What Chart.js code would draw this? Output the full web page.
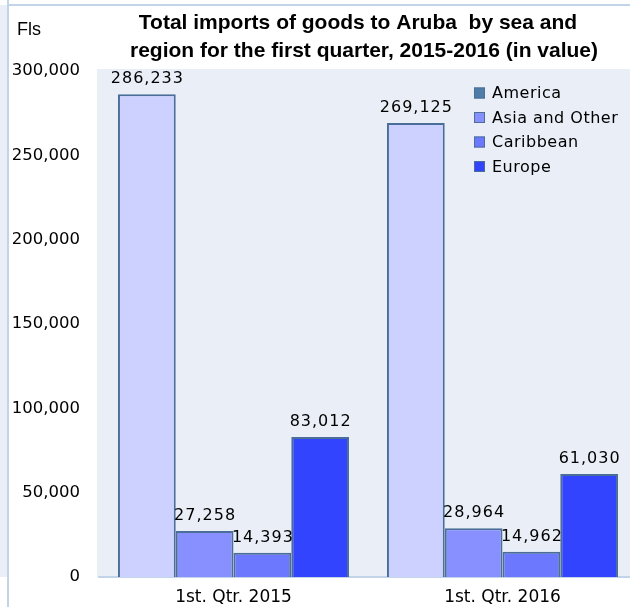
<!DOCTYPE html>
<html>
<head>
<meta charset="utf-8">
<script src="https://cdn.jsdelivr.net/npm/chart.js@4.4.1/dist/chart.umd.min.js"></script>
<style>
html,body{margin:0;padding:0;background:#fff;overflow:hidden;width:630px;height:607px;}
#wrap{width:640px;height:607px;}
canvas{display:block;}
</style>
</head>
<body>
<div id="wrap"><canvas id="c" width="640" height="607"></canvas></div>
<script>
const categories = ['1st. Qtr. 2015', '1st. Qtr. 2016'];
const seriesNames = ['America', 'Asia and Other', 'Caribbean', 'Europe'];
const america = [286233, 269125];
const asiaOther = [27258, 28964];
const caribbean = [14393, 14962];
const europe = [83012, 61030];
const yTicks = [0, 50000, 100000, 150000, 200000, 250000, 300000];
const titleLines = ['Total imports of goods to Aruba  by sea and', 'region for the first quarter, 2015-2016 (in value)'];
const unitLabel = 'Fls';

const barColors = ['#CDD1FF', '#8890FF', '#6C79FF', '#3344FF'];
const legendColors = ['#4E7DA8', '#8890FF', '#6C79FF', '#3344FF'];
const borderColor = '#4A6E98';
const plotBg = '#E9EEF7';
const lineColor = '#C3D4E8';
const FONT = '"DejaVu Sans", sans-serif';

function fmt(v) { return String(v).replace(/\B(?=(\d{3})+(?!\d))/g, ','); }

const seriesData = [america, asiaOther, caribbean, europe];

const decor = {
  id: 'decor',
  beforeDraw(chart) {
    const ctx = chart.ctx;
    const ca = chart.chartArea;
    ctx.save();
    ctx.fillStyle = plotBg;
    ctx.fillRect(0, 5, 7, ca.bottom - 5);
    ctx.fillRect(ca.left - 2, 69, 640 - (ca.left - 2), ca.bottom - 69);
    ctx.fillStyle = lineColor;
    ctx.fillRect(7, 0, 2, 607);
    ctx.fillRect(7, 4, 633, 2);
    ctx.restore();
  },
  afterDatasetsDraw(chart) {
    const ctx = chart.ctx;
    ctx.save();
    ctx.font = '16px ' + FONT;
    ctx.letterSpacing = '1px';
    ctx.fillStyle = '#000';
    ctx.textAlign = 'center';
    ctx.textBaseline = 'alphabetic';
    chart.data.datasets.forEach((ds, di) => {
      const meta = chart.getDatasetMeta(di);
      meta.data.forEach((bar, i) => {
        ctx.fillText(fmt(ds.data[i]), bar.x + 0.5, bar.y - 11);
      });
    });
    ctx.letterSpacing = '0px';
    ctx.font = 'bold 21px "Liberation Sans", Arial, sans-serif';
    ctx.fillText(titleLines[0], 358, 29);
    ctx.fillText(titleLines[1], 364, 57);
    ctx.textAlign = 'left';
    ctx.font = '18px "Liberation Sans", Arial, sans-serif';
    ctx.fillText(unitLabel, 17, 35);
    ctx.font = '16px ' + FONT;
    ctx.letterSpacing = '0.5px';
    ctx.textBaseline = 'middle';
    const lx = 474, ly0 = 93, step = 24.5;
    seriesNames.forEach((name, i) => {
      const y = ly0 + i * step;
      ctx.fillStyle = legendColors[i];
      ctx.fillRect(lx, y - 5.5, 11, 11);
      ctx.strokeStyle = borderColor;
      ctx.lineWidth = 1;
      ctx.strokeRect(lx + 0.5, y - 5, 10, 10);
      ctx.fillStyle = '#000';
      ctx.fillText(name, lx + 18, y + 1);
    });
    ctx.restore();
  }
};

new Chart(document.getElementById('c'), {
  type: 'bar',
  data: {
    labels: categories,
    datasets: seriesNames.map((n, i) => ({
      label: n,
      data: seriesData[i],
      backgroundColor: barColors[i],
      borderColor: borderColor,
      borderWidth: 2,
      borderSkipped: 'bottom',
      categoryPercentage: 0.859,
      barPercentage: 1.0
    }))
  },
  options: {
    responsive: false,
    animation: false,
    devicePixelRatio: 1,
    layout: { padding: { top: 71, right: 3, bottom: 0, left: 0 } },
    plugins: {
      legend: { display: false },
      title: { display: false },
      tooltip: { enabled: false }
    },
    scales: {
      x: {
        grid: { display: false, drawTicks: false },
        border: { display: true, color: lineColor, width: 2 },
        ticks: { font: { family: FONT, size: 17 }, color: '#000', padding: 10 },
        afterFit(s) { s.height = 30; }
      },
      y: {
        min: 0,
        max: 300000,
        grid: { display: false, drawTicks: false },
        border: { display: false },
        afterBuildTicks(s) { s.ticks = yTicks.map(v => ({ value: v })); },
        ticks: {
          font: { family: FONT, size: 16.5 },
          color: '#000',
          padding: 19,
          callback: v => fmt(v)
        },
        afterFit(s) { s.width = 99; }
      }
    }
  },
  plugins: [decor]
});
</script>
</body>
</html>
